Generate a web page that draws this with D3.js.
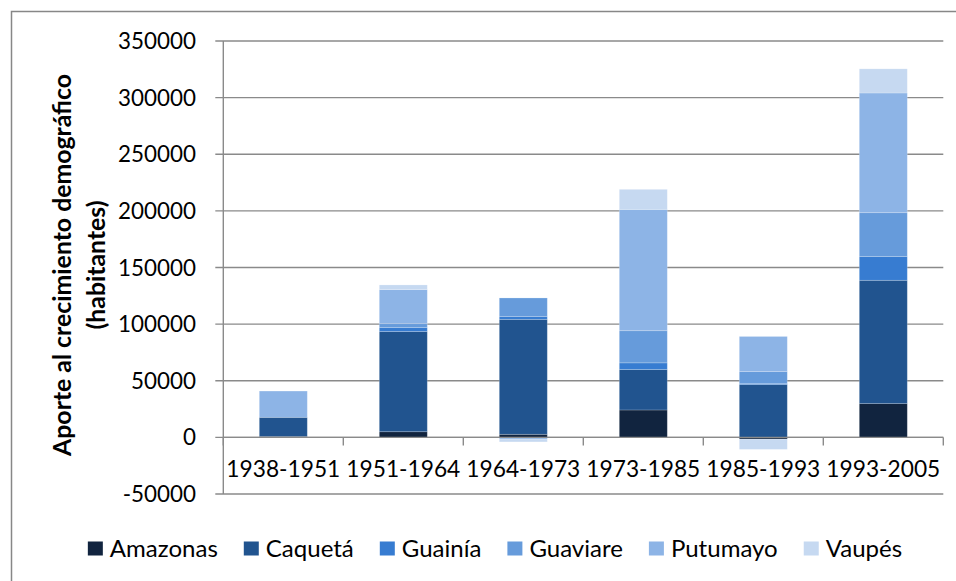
<!DOCTYPE html>
<html><head><meta charset="utf-8">
<script src="https://cdn.jsdelivr.net/npm/d3@7"></script>
<style>
html,body{margin:0;padding:0;background:#fff;}
svg{display:block;}
text{font-family:Lato,"Open Sans",sans-serif;fill:#000;}
</style></head>
<body>
<svg id="chart" width="956" height="581"></svg>
<script>
const categories = ["1938-1951","1951-1964","1964-1973","1973-1985","1985-1993","1993-2005"];
const seriesNames = ["Amazonas","Caquetá","Guainía","Guaviare","Putumayo","Vaupés"];
const amazonas = [800, 5000, 2700, 24200, -1500, 29800];
const caqueta  = [16900, 88500, 101500, 35700, 46600, 108900];
const guainia  = [0, 3600, 2600, 5900, 800, 21000];
const guaviare = [0, 3300, 16300, 28400, 10700, 38700];
const putumayo = [23200, 30100, -1500, 107100, 31000, 105700];
const vaupes   = [0, 4100, -2500, 17700, -9100, 21300];
const seriesColors = ["#11243F","#21548F","#377CD1","#669BDB","#8DB4E6","#C6D9F1"];
const yTicks = [-50000,0,50000,100000,150000,200000,250000,300000,350000];
const yTitle1 = "Aporte al crecimiento demográfico";
const yTitle2 = "(habitantes)";

const seriesValues = [amazonas, caqueta, guainia, guaviare, putumayo, vaupes];
const table = categories.map((c,i)=>{
  const row = {cat:c};
  seriesNames.forEach((s,j)=>row[s]=seriesValues[j][i]);
  return row;
});

const svg = d3.select("#chart");
const plotL = 223.3, plotR = 943.3, plotT = 41, plotB = 494;

// frame
svg.append("rect").attr("x",11.5).attr("y",11.5).attr("width",1000).attr("height",1000)
  .attr("fill","#fff").attr("stroke","#878787").attr("stroke-width",1.5);

const x = d3.scaleBand().domain(categories).range([plotL,plotR]).paddingInner(0.6).paddingOuter(0.3);
const y = d3.scaleLinear().domain([-50000,350000]).range([plotB,plotT]);

function fitSize(str, targetW, weight){
  const t = svg.append("text").attr("font-size",100).attr("font-weight",weight||400).text(str);
  const w = t.node().getComputedTextLength();
  t.remove();
  return 100*targetW/w;
}
const fsTick = fitSize("350000", 78);
const fsCat = fitSize("1938-1951", 114);
const fsLeg = fitSize("Amazonas", 108);
const fsTitle = fitSize(yTitle1, 382, 700);

// gridlines
svg.append("g").selectAll("line").data(yTicks).join("line")
  .attr("x1",plotL-8).attr("x2",plotR)
  .attr("y1",d=>y(d)).attr("y2",d=>y(d))
  .attr("stroke","#8a8a8a").attr("stroke-width",1.4);

// bars
const stack = d3.stack().keys(seriesNames).offset(d3.stackOffsetDiverging);
const stacked = stack(table);
svg.append("g").selectAll("g").data(stacked).join("g")
  .attr("fill",(d,i)=>seriesColors[i])
  .selectAll("rect").data(d=>d).join("rect")
  .attr("x",d=>x(d.data.cat))
  .attr("width",x.bandwidth())
  .attr("y",d=>y(Math.max(d[0],d[1])))
  .attr("height",d=>Math.abs(y(d[0])-y(d[1])))
  .attr("stroke","rgba(255,255,255,0.25)").attr("stroke-width",0.8);

// y axis line
svg.append("line").attr("x1",plotL).attr("x2",plotL).attr("y1",plotT).attr("y2",plotB)
  .attr("stroke","#8a8a8a").attr("stroke-width",1.4);
// x axis at zero
svg.append("line").attr("x1",plotL).attr("x2",plotR).attr("y1",y(0)).attr("y2",y(0))
  .attr("stroke","#8a8a8a").attr("stroke-width",1.4);
// category ticks
const bounds = categories.map(c=>x(c) - (x.step()-x.bandwidth())/2).concat([plotR]);
svg.append("g").selectAll("line").data(bounds).join("line")
  .attr("x1",d=>d).attr("x2",d=>d).attr("y1",y(0)).attr("y2",y(0)+8)
  .attr("stroke","#8a8a8a").attr("stroke-width",1.4);

// y tick labels
svg.append("g").selectAll("text").data(yTicks).join("text")
  .attr("x",196).attr("y",d=>y(d)).attr("dy","0.36em")
  .attr("text-anchor","end").attr("font-size",fsTick)
  .text(d=>String(d));

// category labels
svg.append("g").selectAll("text").data(categories).join("text")
  .attr("x",d=>x(d)+x.bandwidth()/2).attr("y",469).attr("dy","0.36em")
  .attr("text-anchor","middle").attr("font-size",fsCat)
  .text(d=>d);

// y title
const tg = svg.append("g").attr("transform","translate(71,265) rotate(-90)");
tg.append("text").attr("text-anchor","middle").attr("font-weight",700).attr("font-size",fsTitle).text(yTitle1);
tg.append("text").attr("text-anchor","middle").attr("font-weight",700).attr("font-size",fsTitle).attr("y",34).text(yTitle2);

// legend
const lg = svg.append("g");
const items = lg.selectAll("g").data(seriesNames).join("g");
items.append("rect").attr("width",15).attr("height",14).attr("y",-7).attr("fill",(d,i)=>seriesColors[i]);
items.append("text").attr("x",22).attr("y",0).attr("dy","0.36em").attr("font-size",fsLeg).text(d=>d);
let cx = 0;
const offs = [];
items.each(function(){
  const w = d3.select(this).select("text").node().getComputedTextLength();
  offs.push(cx);
  cx += 22 + w + 26;
});
const total = cx - 26;
const startX = 495 - total/2;
items.attr("transform",(d,i)=>`translate(${startX+offs[i]},548.5)`);
</script>
</body></html>
